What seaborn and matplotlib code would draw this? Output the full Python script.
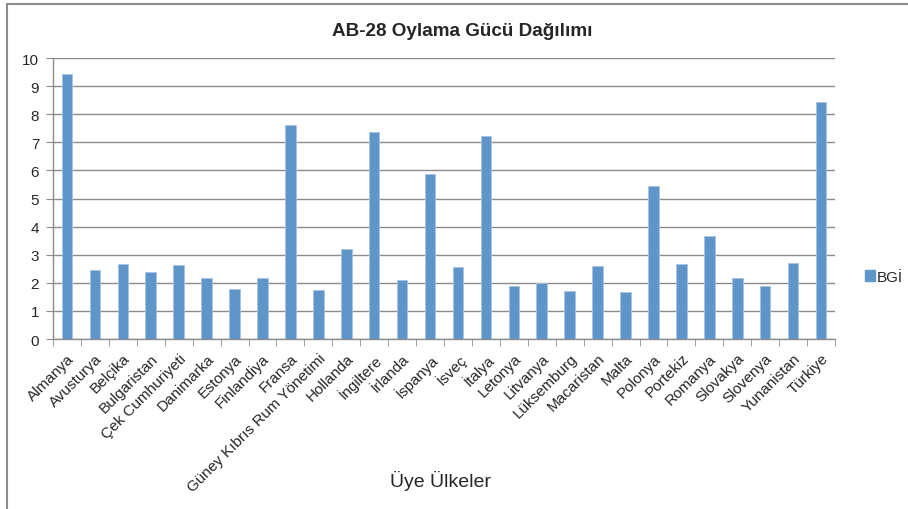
import pandas as pd
import matplotlib.pyplot as plt
from matplotlib.lines import Line2D
import seaborn as sns

countries = ["Almanya", "Avusturya", "Belçika", "Bulgaristan", "Çek Cumhuriyeti",
             "Danimarka", "Estonya", "Finlandiya", "Fransa", "Güney Kıbrıs Rum Yönetimi",
             "Hollanda", "İngiltere", "İrlanda", "İspanya", "İsveç", "İtalya",
             "Letonya", "Litvanya", "Lüksemburg", "Macaristan", "Malta", "Polonya",
             "Portekiz", "Romanya", "Slovakya", "Slovenya", "Yunanistan", "Türkiye"]
bgi = [9.42, 2.47, 2.68, 2.38, 2.64, 2.17, 1.79, 2.17, 7.63, 1.74,
       3.19, 7.37, 2.09, 5.87, 2.55, 7.23, 1.87, 2.01, 1.71, 2.60,
       1.69, 5.46, 2.67, 3.65, 2.17, 1.87, 2.72, 8.43]

df = pd.DataFrame({"Ülke": countries, "BGİ": bgi})

sns.set_style("white")
plt.rcParams["font.family"] = ["Liberation Sans", "DejaVu Sans"]

fig = plt.figure(figsize=(9.08, 5.10), dpi=100)
ax = fig.add_axes([0.0584, 0.3333, 0.8612, 0.551])

bar_color = "#5F95C8"
sns.barplot(data=df, x="Ülke", y="BGİ", color=bar_color, width=0.38,
            edgecolor="#A9C4E2", linewidth=0.6, saturation=1, ax=ax, zorder=3)

ax.set_ylim(0, 10)
ax.set_yticks(range(0, 11))
ax.set_xlim(-0.5, len(countries) - 0.5)
ax.yaxis.grid(True, color="#8C8C8C", linewidth=1)
ax.set_axisbelow(True)

for side in ["top", "right"]:
    ax.spines[side].set_visible(False)
for side in ["left", "bottom"]:
    ax.spines[side].set_color("#8C8C8C")
    ax.spines[side].set_linewidth(1)

ax.tick_params(axis="y", which="major", left=True, length=5, color="#8C8C8C",
               labelsize=11, pad=5)
ax.set_xticks(range(len(countries)))
ax.set_xticklabels(countries, rotation=45, ha="right", rotation_mode="anchor",
                   fontsize=11)
ax.tick_params(axis="x", which="major", bottom=False, pad=5)
# category separator ticks
ax.set_xticks([i - 0.5 for i in range(len(countries) + 1)], minor=True)
ax.tick_params(axis="x", which="minor", bottom=True, length=5, color="#8C8C8C")

ax.set_ylabel("")
ax.set_xlabel("Üye Ülkeler", fontsize=14)
ax.xaxis.set_label_coords(0.495, -0.465)

fig.legend([plt.Rectangle((0, 0), 1, 1, color=bar_color)], ["BGİ"],
           loc="center left", bbox_to_anchor=(0.937, 0.455), frameon=False,
           fontsize=11, handlelength=0.7, handleheight=0.7, handletextpad=0.1)

# outer chart frame
fig.add_artist(Line2D([7 / 908, 1], [1 - 5 / 510, 1 - 5 / 510], color="#8C8C8C", lw=1.5))
fig.add_artist(Line2D([7 / 908, 7 / 908], [0, 1 - 5 / 510], color="#8C8C8C", lw=1.5))

fig.text(0.509, 1 - 31 / 510, "AB-28 Oylama Gücü Dağılımı", ha="center", va="center",
         fontsize=13.6, fontweight="bold")

fig.savefig("out.png", dpi=100)
